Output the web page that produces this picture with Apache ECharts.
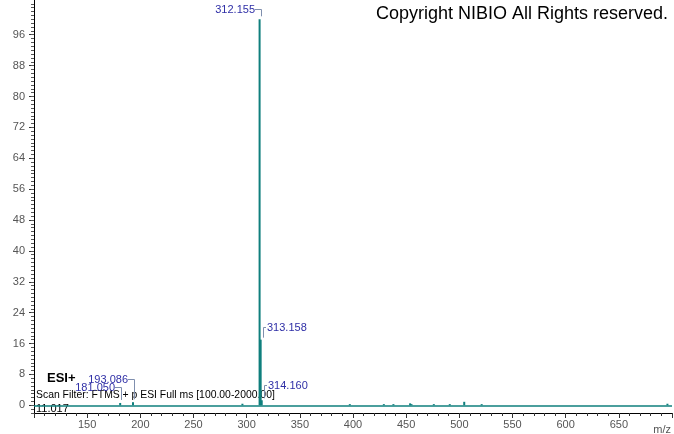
<!DOCTYPE html>
<html>
<head>
<meta charset="utf-8">
<script src="https://cdn.jsdelivr.net/npm/echarts@6/dist/echarts.min.js"></script>
<style>
html,body{margin:0;padding:0;background:#fff;}
#main{width:674px;height:434px;}
</style>
</head>
<body>
<div id="main"></div>
<script>
// ---- data ----
const peakMz = [181.050, 193.086, 296.0, 312.155, 313.158, 314.160, 397.0, 429.0, 438.0, 453.7, 455.0, 476.0, 491.0, 504.6, 521.0, 695.7];
const peakIntensity = [0.6, 0.8, 0.4, 100, 17.0, 1.3, 0.3, 0.3, 0.3, 0.5, 0.3, 0.3, 0.3, 0.9, 0.3, 0.4];
const labelMz = [312.155, 313.158, 314.160, 193.086, 181.050];
const labelText = ['312.155', '313.158', '314.160', '193.086', '181.050'];
const yTickLabels = [0, 8, 16, 24, 32, 40, 48, 56, 64, 72, 80, 88, 96];
const xTickLabels = [150, 200, 250, 300, 350, 400, 450, 500, 550, 600, 650];
const titleText = 'Copyright NIBIO All Rights reserved.';
const ionText = 'ESI+';
const filterText = 'Scan Filter: FTMS + p ESI Full ms [100.00-2000.00]';
const rtText = '11.017';
const xAxisName = 'm/z';

// label layout (placement only, not data)
const labelLayout = [
  {side: 'left', dy: 10},
  {side: 'right', dy: 13},
  {side: 'right', dy: 15},
  {side: 'left', dy: 23},
  {side: 'left', dy: 16}
];

const FONT = '"Liberation Sans", Arial, sans-serif';
const TEAL = '#0f7f7d';
const BLUE = '#2e2ea6';
const BRACKET = '#7f8fae';

const minorY = [];
for (let v = -2; v <= 104; v++) minorY.push(v);

const labelData = labelMz.map((m, i) => [m, peakIntensity[peakMz.indexOf(m)], i]);

const chart = echarts.init(document.getElementById('main'), null, {renderer: 'canvas'});
chart.setOption({
  animation: false,
  backgroundColor: '#fff',
  grid: {left: 34, right: 2, top: 0, bottom: 21, containLabel: false},
  xAxis: {
    type: 'value', min: 100, max: 700, interval: 50,
    axisLine: {show: true, onZero: false, lineStyle: {color: '#000', width: 1}},
    axisTick: {show: true, length: 5, lineStyle: {color: '#333'}},
    minorTick: {show: true, splitNumber: 5, length: 3, lineStyle: {color: '#333'}},
    splitLine: {show: false},
    axisLabel: {
      color: '#555', fontFamily: FONT, fontSize: 11, margin: 6,
      customValues: xTickLabels
    }
  },
  yAxis: [{
    type: 'value', min: -2, max: 105,
    axisLine: {show: true, onZero: false, lineStyle: {color: '#000', width: 1}},
    axisTick: {show: true, length: 5, customValues: yTickLabels, lineStyle: {color: '#333'}},
    splitLine: {show: false},
    axisLabel: {color: '#555', fontFamily: FONT, fontSize: 11, margin: 9, customValues: yTickLabels}
  }, {
    type: 'value', min: -2, max: 105, position: 'left',
    axisLine: {show: false},
    axisTick: {show: true, length: 3, customValues: minorY, lineStyle: {color: '#555'}},
    splitLine: {show: false},
    axisLabel: {show: false}
  }],
  graphic: [
    {type: 'text', right: 6, top: 5, style: {text: titleText, font: '18px ' + FONT, fill: '#000'}},
    {type: 'text', left: 47, top: 372, style: {text: ionText, font: 'bold 13px ' + FONT, fill: '#000'}},
    {type: 'text', left: 36, top: 390, style: {text: filterText, font: '10.4px ' + FONT, fill: '#000'}},
    {type: 'text', left: 36, top: 403, style: {text: rtText, font: '11px ' + FONT, fill: '#000'}},
    {type: 'text', right: 3, top: 424, style: {text: xAxisName, font: '11px ' + FONT, fill: '#555'}}
  ],
  series: [{
    type: 'bar',
    data: peakMz.map((m, i) => [m, peakIntensity[i]]),
    barWidth: 2,
    itemStyle: {color: TEAL},
    markLine: {
      silent: true, symbol: 'none', label: {show: false},
      lineStyle: {color: TEAL, width: 1.5, type: 'solid'},
      data: [{yAxis: 0}]
    },
    z: 3
  }, {
    type: 'custom',
    coordinateSystem: 'cartesian2d',
    data: labelData,
    clip: false,
    z: 5,
    renderItem: function (params, api) {
      const p = api.coord([api.value(0), api.value(1)]);
      const lay = labelLayout[params.dataIndex];
      const ty = Math.round(p[1] - lay.dy) + 0.5;
      const px = Math.round(p[0]);
      const txt = labelText[api.value(2)];
      let pts, tx, align;
      if (lay.side === 'left') {
        tx = px - 5; align = 'right';
        pts = [[px - 5, ty], [px + 1.5, ty], [px + 1.5, p[1] - 3]];
      } else {
        tx = px + 6; align = 'left';
        pts = [[px + 5, ty], [px + 2.5, ty], [px + 2.5, p[1] - 2]];
      }
      return {
        type: 'group',
        children: [
          {type: 'polyline', shape: {points: pts}, style: {stroke: BRACKET, lineWidth: 1, fill: null}},
          {type: 'text', x: tx, y: ty, style: {text: txt, fill: BLUE, font: '11px ' + FONT, align: align, verticalAlign: 'middle', textAlign: align, textVerticalAlign: 'middle'}}
        ]
      };
    }
  }]
});
</script>
</body>
</html>
